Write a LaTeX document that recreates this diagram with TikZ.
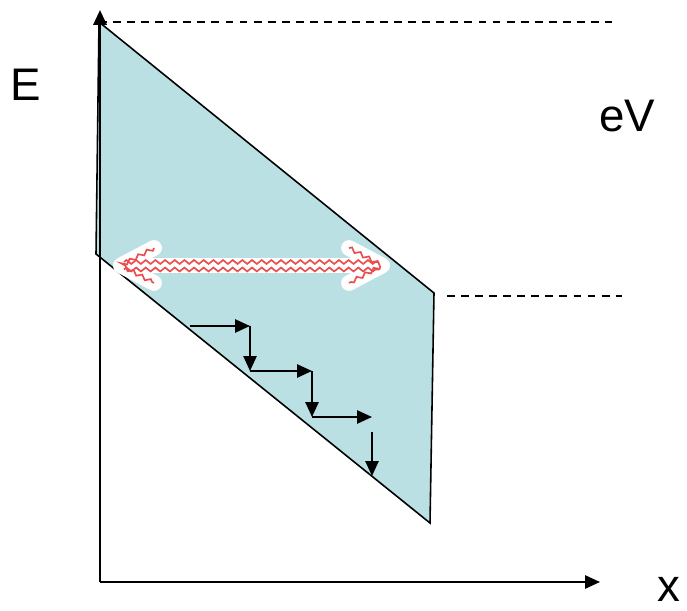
\documentclass[tikz,border=0pt]{standalone}
\usepackage{fontspec}
\setmainfont{Liberation Sans}
\usetikzlibrary{arrows.meta,decorations.pathmorphing}
\definecolor{bandfill}{RGB}{186,224,227}
\definecolor{wavered}{RGB}{234,78,78}

\begin{document}
\begin{tikzpicture}[x=0.02cm,y=-0.02cm,>={Triangle[length=8.5pt,width=7.5pt]},
  lbl/.style={font=\fontsize{26}{30}\selectfont,inner sep=1pt},
  hop/.style={->,line width=1.1pt},
  wave/.style={wavered,line width=0.95pt,decorate,decoration={zigzag,segment length=5.5pt,amplitude=1.1pt}}]
\useasboundingbox (0,0) rectangle (687,611);
% band
\coordinate (tl) at (99,22);
\coordinate (tr) at (434,293);
\coordinate (br) at (430,523);
\coordinate (bl) at (96,254);
\filldraw[fill=bandfill,line width=0.9pt] (tl) -- (tr) -- (br) -- (bl) -- cycle;
% axes
\coordinate (o) at (100,582);
\coordinate (ytip) at (100,10);
\coordinate (xtip) at (600,582);
\draw[->,line width=1.5pt] (o) -- (ytip);
\draw[->,line width=1.2pt] (o) -- (xtip);
\coordinate (d1) at (612,22);
\coordinate (d2a) at (447,296);
\coordinate (d2b) at (622,296);
\draw[dashed,dash pattern=on 4.5pt off 3.5pt,line width=0.8pt] (tl) -- (d1);
\draw[dashed,dash pattern=on 4.5pt off 3.5pt,line width=0.8pt] (d2a) -- (d2b);
\node[lbl] (E) at (26,85) {E};
\node[lbl] (eV) at (627,116) {eV};
\node[lbl] (xlab) at (669,589) {x};
% double arrow
\coordinate (la) at (121,265.5);
\coordinate (ra) at (382,265.5);
\draw[white,line width=9pt,line cap=round] (la) -- (ra);
\draw[white,line width=9pt,line cap=round,line join=round] (154,248) -- (la) -- (154,283);
\draw[white,line width=9pt,line cap=round,line join=round] (349,248) -- (ra) -- (349,283);
\draw[wave] (124,262) -- (379,262);
\draw[wave] (124,269.5) -- (379,269.5);
\draw[wave] (154,248) -- (la) -- (154,283);
\draw[wave] (349,248) -- (ra) -- (349,283);
% steps
\coordinate (s0) at (190,326);
\coordinate (s1) at (250,326);
\coordinate (s2) at (250,371);
\coordinate (s3) at (312,371);
\coordinate (s4) at (312,417);
\coordinate (s5) at (372,417);
\coordinate (s6) at (372,432);
\coordinate (s7) at (372,476);
\draw[hop] (s0) -- (s1);
\draw[hop] (s1) -- (s2);
\draw[hop] (s2) -- (s3);
\draw[hop] (s3) -- (s4);
\draw[hop] (s4) -- (s5);
\draw[hop] (s6) -- (s7);
\end{tikzpicture}
\end{document}
